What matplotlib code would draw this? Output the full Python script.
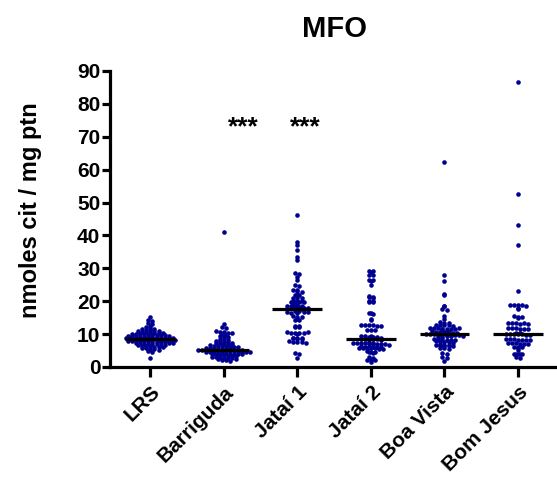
import numpy as np
import matplotlib
matplotlib.use('Agg')
import matplotlib.pyplot as plt
from matplotlib.transforms import ScaledTranslation

plt.rcParams['font.family'] = ['Liberation Sans', 'DejaVu Sans']
plt.rcParams['font.weight'] = 'bold'

groups = ['LRS', 'Barriguda', 'Jataí 1', 'Jataí 2', 'Boa Vista', 'Bom Jesus']

lrs = [15.2, 14.3, 14.0, 13.4, 13.2, 12.6, 12.1, 11.8, 11.6, 11.5, 11.3, 11.1,
       11.0, 10.9, 10.8, 10.7, 10.6, 10.5, 10.4, 10.3, 10.2, 10.1, 10.0, 10.0,
       9.9, 9.8, 9.8, 9.7, 9.6, 9.6, 9.5, 9.4, 9.4, 9.3, 9.2, 9.2, 9.1, 9.0,
       9.0, 8.9, 8.9, 8.8, 8.8, 8.7, 8.7, 8.6, 8.6, 8.5, 8.5, 8.4, 8.4, 8.3,
       8.3, 8.2, 8.2, 8.1, 8.0, 8.0, 7.9, 7.9, 7.8, 7.8, 7.7, 7.6, 7.6, 7.5,
       7.4, 7.4, 7.3, 7.2, 7.1, 7.0, 7.0, 6.9, 6.8, 6.7, 6.6, 6.5, 6.4, 6.3,
       6.2, 6.1, 6.0, 5.9, 5.8, 5.6, 5.5, 5.3, 5.0, 4.7, 2.8]
barriguda = [41.0, 13.0, 12.2, 11.8, 10.8, 10.6, 10.5, 10.4, 10.2, 10.0, 9.6,
             9.4, 9.2, 9.0, 8.6, 8.4, 8.2, 8.0, 7.8, 7.6, 7.5, 7.4, 7.3, 7.2,
             7.1, 7.0, 6.8, 6.6, 6.5, 6.4, 6.3, 6.2, 6.1, 6.0, 6.0, 5.9, 5.8,
             5.7, 5.6, 5.6, 5.5, 5.4, 5.4, 5.3, 5.3, 5.2, 5.2, 5.1, 5.1, 5.0,
             5.0, 4.9, 4.9, 4.8, 4.8, 4.7, 4.7, 4.6, 4.6, 4.5, 4.5, 4.4, 4.3,
             4.3, 4.2, 4.1, 4.0, 4.0, 3.9, 3.8, 3.7, 3.6, 3.5, 3.4, 3.3, 3.2,
             3.1, 3.0, 2.9, 2.8, 2.7, 2.6, 2.5, 2.4, 2.2, 2.0, 1.8]
jatai1 = [46.2, 38.1, 37.2, 35.7, 33.4, 32.4, 28.6, 28.4, 27.3, 26.3, 24.8,
          24.6, 23.5, 23.3, 23.0, 22.8, 22.1, 21.9, 21.8, 21.1, 21.0, 20.9,
          20.2, 20.1, 20.0, 19.9, 19.9, 19.8, 19.7, 16.6, 16.5, 16.4, 18.8,
          18.7, 18.6, 18.5, 18.4, 18.3, 18.2, 18.0, 17.9, 17.8, 17.7, 17.6,
          17.0, 16.9, 16.8, 16.7, 15.5, 15.3, 15.2, 14.5, 14.3, 14.2, 12.6,
          12.4, 12.2, 12.1, 10.5, 10.4, 10.3, 10.2, 10.1, 10.4, 10.6, 8.9,
          8.8, 8.7, 8.6, 8.5, 8.8, 7.8, 7.7, 7.6, 7.5, 7.4, 4.2, 4.0, 2.8]
jatai2 = [29.3, 29.1, 28.9, 28.1, 27.9, 26.6, 26.4, 26.2, 25.0, 21.5, 21.4,
          21.2, 21.1, 20.1, 20.0, 19.9, 19.8, 16.5, 16.4, 16.2, 14.5, 14.3,
          12.9, 12.8, 12.8, 12.7, 12.6, 12.6, 11.3, 11.2, 11.1, 9.5, 9.4, 9.3,
          9.2, 9.1, 9.0, 8.9, 8.6, 8.5, 8.5, 8.4, 8.4, 8.3, 7.5, 7.4, 7.3,
          7.3, 7.2, 7.2, 7.1, 7.1, 7.0, 7.0, 6.9, 6.8, 6.3, 6.2, 6.1, 6.1,
          6.0, 6.0, 5.9, 5.9, 5.8, 5.8, 5.7, 5.6, 5.5, 4.8, 4.7, 4.6, 4.5,
          4.4, 2.9, 2.8, 2.2, 2.1, 2.0, 1.5]
boa_vista = [62.3, 28.0, 26.1, 22.1, 21.9, 18.6, 18.4, 17.6, 17.4, 15.5, 14.6,
             13.6, 13.5, 13.4, 12.9, 12.8, 12.8, 12.7, 12.6, 11.9, 11.8, 11.8,
             11.7, 11.7, 11.6, 11.6, 11.5, 11.9, 10.9, 10.8, 10.7, 9.2, 10.6,
             9.1, 10.5, 10.5, 10.4, 10.3, 10.1, 10.0, 9.9, 9.8, 9.8, 9.7, 9.7,
             9.6, 9.6, 9.5, 9.4, 9.3, 8.6, 8.5, 8.4, 8.3, 8.2, 8.1, 7.8, 7.7,
             7.6, 7.5, 7.4, 6.8, 6.7, 6.7, 6.6, 6.6, 6.5, 6.4, 6.3, 5.8, 5.7,
             5.6, 4.3, 4.1, 2.9, 2.7, 1.8]
bom_jesus = [86.8, 52.5, 43.2, 37.0, 23.2, 19.0, 18.9, 18.8, 18.7, 18.6, 17.9,
             17.7, 15.4, 15.3, 15.1, 15.0, 13.4, 13.3, 13.3, 13.2, 13.4, 13.2,
             11.9, 11.8, 11.8, 11.7, 11.7, 11.6, 10.3, 10.2, 10.1, 10.0, 10.0,
             9.9, 9.9, 9.8, 9.8, 8.5, 8.4, 8.4, 8.3, 8.3, 8.2, 8.2, 7.3, 7.2,
             7.2, 7.1, 7.1, 7.0, 6.1, 6.0, 6.0, 5.9, 5.2, 4.0, 3.9, 3.9, 3.8,
             3.8, 2.9, 2.7]

values = [lrs, barriguda, jatai1, jatai2, boa_vista, bom_jesus]
star_groups = [1, 2]   # groups marked *** vs LRS
star_y = 73.0


def prism_offsets(v, row_h=0.7, dx=0.055):
    # spread points sideways in rows, like a Prism scatter dot plot
    v = np.asarray(v)
    rows = np.round(v / row_h).astype(int)
    off = np.zeros(len(v))
    for r in np.unique(rows):
        idx = np.where(rows == r)[0]
        n = len(idx)
        off[idx] = (np.arange(n) - (n - 1) / 2) * dx
    return off


fig = plt.figure(figsize=(5.57, 4.82), dpi=100)
ax = fig.add_axes([0.1975, 0.2386, 0.7985, 0.6141])

for i, v in enumerate(values):
    x = i + prism_offsets(v)
    ax.plot(x, v, 'o', color='#000090', ms=3.3, mew=0, clip_on=False)
    m = np.median(v)
    ax.plot([i - 0.34, i + 0.34], [m, m], color='black', lw=2.3,
            solid_capstyle='butt')

for g in star_groups:
    ax.text(g + 0.26 - 0.15 * (g - 1), star_y, '***', ha='center',
            va='center', fontsize=19)

ax.set_xlim(-0.55, 5.5)
ax.set_ylim(0, 90)
ax.set_yticks(np.arange(0, 91, 10))
ax.set_xticks(range(len(groups)))
ax.set_xticklabels(groups, rotation=45, ha='right', rotation_mode='anchor')
for lab in ax.get_xticklabels():
    lab.set_transform(lab.get_transform() +
                      ScaledTranslation(0.1, 0, fig.dpi_scale_trans))

for s in ['top', 'right']:
    ax.spines[s].set_visible(False)
for s in ['left', 'bottom']:
    ax.spines[s].set_linewidth(2.3)
ax.tick_params(axis='y', length=6, width=2.3, labelsize=15, pad=1)
ax.tick_params(axis='x', length=7, width=2.3, labelsize=15, pad=4)

ax.set_ylabel('nmoles cit / mg ptn', fontsize=17, fontweight='bold')
ax.yaxis.set_label_coords(-0.153, 0.53)
fig.text(334 / 557, 1 - 29 / 482, 'MFO', ha='center', va='center',
         fontsize=21)

fig.savefig('out.png', dpi=100)
